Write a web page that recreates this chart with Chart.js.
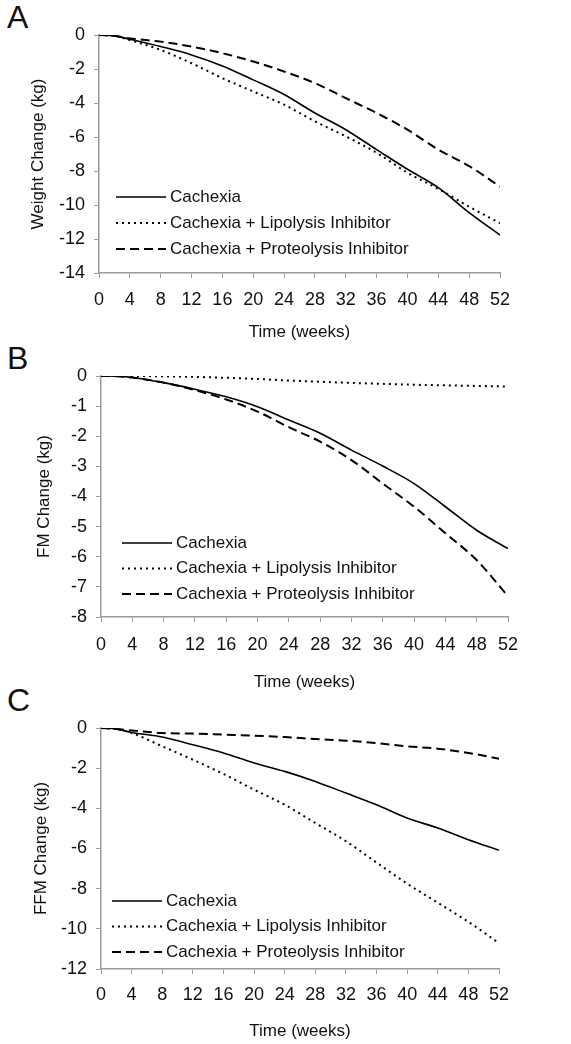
<!DOCTYPE html>
<html>
<head>
<meta charset="utf-8">
<script src="https://cdn.jsdelivr.net/npm/chart.js@4"></script>
<style>
  body { margin: 0; background: #fff; width: 571px; height: 1044px; position: relative; overflow: hidden;
         font-family: "Liberation Sans", Arial, sans-serif; }
  canvas { position: absolute; left: 0; }
  .letter { position: absolute; left: 7px; font-size: 32px; line-height: 1; color: #111; }
</style>
</head>
<body>
<div class="letter" style="top:1px">A</div>
<div class="letter" style="top:342px">B</div>
<div class="letter" style="top:684px">C</div>
<canvas id="chartA" width="571" height="345" style="top:0"></canvas>
<canvas id="chartB" width="571" height="350" style="top:345px"></canvas>
<canvas id="chartC" width="571" height="354" style="top:690px"></canvas>
<script>
// semanas (eixo x)
const weeks = [0, 2, 4, 8, 12, 16, 20, 24, 28, 32, 36, 40, 44, 48, 52];
const seriesLabels = ['Cachexia', 'Cachexia + Lipolysis Inhibitor', 'Cachexia + Proteolysis Inhibitor'];

// A - peso
const weightCachexia    = [0, -0.05, -0.25, -0.68, -1.17, -1.82, -2.64, -3.50, -4.59, -5.57, -6.74, -7.90, -8.98, -10.45, -11.77];
const weightLipolysis   = [0, -0.05, -0.30, -0.88, -1.66, -2.54, -3.32, -4.10, -5.08, -5.96, -6.93, -8.10, -9.05, -10.10, -11.07];
const weightProteolysis = [0, -0.05, -0.20, -0.39, -0.68, -1.07, -1.56, -2.15, -2.83, -3.71, -4.59, -5.57, -6.74, -7.71, -8.92];

// B - massa gorda
const fmCachexia    = [0, -0.01, -0.05, -0.22, -0.44, -0.69, -1.02, -1.46, -1.90, -2.46, -2.99, -3.57, -4.34, -5.12, -5.73];
const fmLipolysis   = [0, 0, 0, -0.01, -0.03, -0.06, -0.10, -0.15, -0.19, -0.23, -0.26, -0.29, -0.31, -0.33, -0.35];
const fmProteolysis = [0, -0.01, -0.05, -0.22, -0.47, -0.78, -1.18, -1.70, -2.18, -2.79, -3.57, -4.34, -5.22, -6.11, -7.31];

// C - massa livre de gordura
const ffmCachexia    = [0, -0.05, -0.22, -0.45, -0.83, -1.24, -1.74, -2.16, -2.66, -3.24, -3.82, -4.48, -4.98, -5.56, -6.09];
const ffmLipolysis   = [0, -0.05, -0.25, -0.91, -1.58, -2.29, -3.07, -3.82, -4.73, -5.64, -6.70, -7.75, -8.70, -9.65, -10.71];
const ffmProteolysis = [0, -0.05, -0.12, -0.25, -0.28, -0.33, -0.38, -0.45, -0.55, -0.63, -0.75, -0.91, -1.03, -1.24, -1.53];

const FONT = '"Liberation Sans", Arial, sans-serif';
const INK = '#111';
const AXIS = '#9a9a9a';

// legenda desenhada dentro da área do gráfico
const insetLegend = {
    id: 'insetLegend',
    afterDraw(chart, args, opts) {
        const ctx = chart.ctx;
        ctx.save();
        ctx.font = '17px ' + FONT;
        ctx.fillStyle = INK;
        ctx.textBaseline = 'middle';
        chart.data.datasets.forEach((ds, i) => {
            const y = opts.top + i * opts.gap;
            ctx.beginPath();
            ctx.setLineDash(ds.borderDash || []);
            ctx.lineWidth = ds.borderWidth;
            ctx.strokeStyle = ds.borderColor;
            ctx.moveTo(opts.left, y);
            ctx.lineTo(opts.left + 50, y);
            ctx.stroke();
            ctx.fillText(ds.label, opts.left + 54, y);
        });
        ctx.restore();
    }
};

function toPoints(values) {
    return values.map((v, i) => ({ x: weeks[i], y: v }));
}

function makeDatasets(solid, dotted, dashed) {
    const base = { borderColor: '#000', pointRadius: 0, fill: false, cubicInterpolationMode: 'monotone' };
    return [
        { ...base, label: seriesLabels[0], data: toPoints(solid), borderWidth: 1.6 },
        { ...base, label: seriesLabels[1], data: toPoints(dotted), borderWidth: 2, borderDash: [2, 4] },
        { ...base, label: seriesLabels[2], data: toPoints(dashed), borderWidth: 2, borderDash: [9, 5] }
    ];
}

function renderPanel(canvasId, datasets, yTitle, yMin, yStep, box, legend) {
    const canvas = document.getElementById(canvasId);
    new Chart(canvas.getContext('2d'), {
        type: 'line',
        data: { datasets: datasets },
        plugins: [insetLegend],
        options: {
            responsive: false,
            animation: false,
            layout: { padding: { left: 0, top: box.top, right: canvas.width - box.right, bottom: 0 } },
            plugins: {
                legend: { display: false },
                tooltip: { enabled: false },
                insetLegend: legend
            },
            scales: {
                x: {
                    type: 'linear', min: 0, max: 52,
                    afterFit: (s) => { s.height = canvas.height - box.bottom; },
                    afterBuildTicks: (s) => { s.ticks = []; for (let w = 0; w <= 52; w += 4) s.ticks.push({ value: w }); },
                    ticks: { color: INK, font: { family: FONT, size: 18 }, padding: box.tickPad, maxRotation: 0, autoSkip: false },
                    grid: { drawOnChartArea: false, drawTicks: true, tickLength: 5, color: AXIS },
                    border: { color: AXIS, width: 1.5 },
                    title: { display: true, text: 'Time (weeks)', color: INK, font: { family: FONT, size: 17 }, padding: { top: 0, bottom: 2 } }
                },
                y: {
                    min: yMin, max: 0,
                    afterFit: (s) => { s.width = box.left; },
                    ticks: { stepSize: yStep, color: INK, font: { family: FONT, size: 18 }, padding: 9 },
                    grid: { drawOnChartArea: false, drawTicks: true, tickLength: 5, color: AXIS },
                    border: { color: AXIS, width: 1.5 },
                    title: { display: true, text: yTitle, color: INK, font: { family: FONT, size: 17 }, padding: { top: box.titlePad, bottom: 0 } }
                }
            }
        }
    });
}

renderPanel('chartA', makeDatasets(weightCachexia, weightLipolysis, weightProteolysis),
    'Weight Change (kg)', -14, 2,
    { left: 99, right: 500, top: 35, bottom: 273, titlePad: 28, tickPad: 11 },
    { left: 116, top: 197, gap: 26 });

renderPanel('chartB', makeDatasets(fmCachexia, fmLipolysis, fmProteolysis),
    'FM Change (kg)', -8, 1,
    { left: 101, right: 508, top: 31, bottom: 272, titlePad: 34, tickPad: 12 },
    { left: 122, top: 198, gap: 25.5 });

renderPanel('chartC', makeDatasets(ffmCachexia, ffmLipolysis, ffmProteolysis),
    'FFM Change (kg)', -12, 2,
    { left: 101, right: 499, top: 38, bottom: 279, titlePad: 31, tickPad: 10 },
    { left: 112, top: 211, gap: 25.5 });
</script>
</body>
</html>
